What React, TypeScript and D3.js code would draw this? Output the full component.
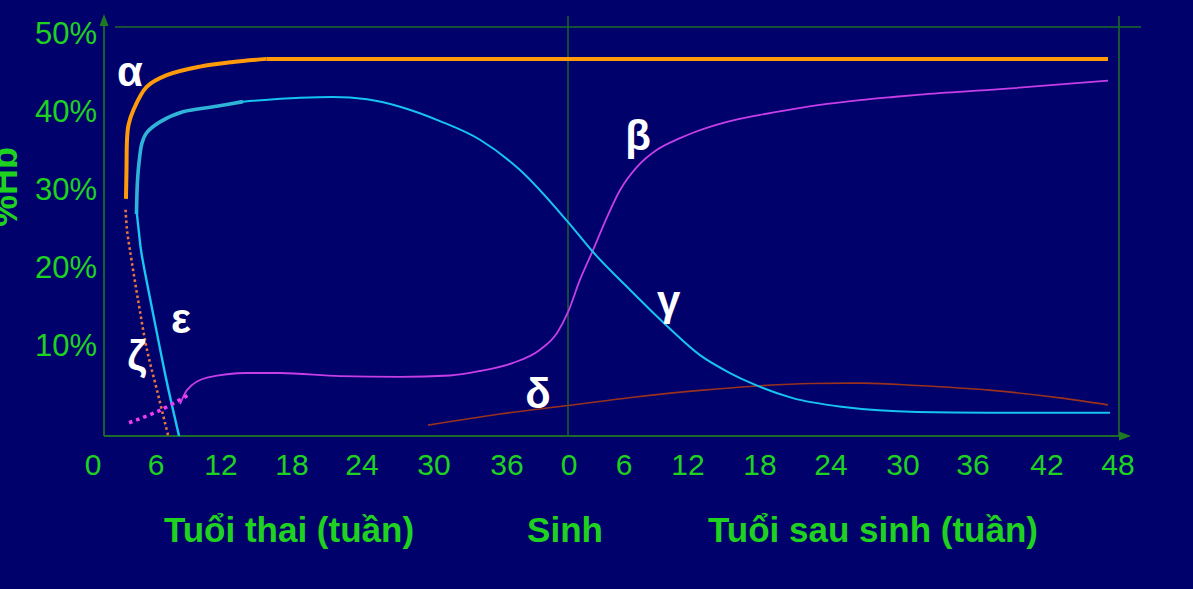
import React from "react";
import * as d3 from "d3";

// ---- axis ticks (t = gestational weeks; t = 40 + postnatal weeks after birth)
const xTickValues = [0, 6, 12, 18, 24, 30, 36, 40, 46, 52, 58, 64, 70, 76, 82, 88];
const xTickLabels = ["0", "6", "12", "18", "24", "30", "36", "0", "6", "12", "18", "24", "30", "36", "42", "48"];
const xTickPixels = [93, 156, 221, 292, 362, 434, 507, 569, 624, 688, 760, 831, 903, 973, 1047, 1118];
const yTickValues = [10, 20, 30, 40, 50];
const yTickLabels = ["10%", "20%", "30%", "40%", "50%"];

// ---- series (t in weeks, v in % Hb)
const alphaRiseT = [3.14, 3.19, 3.24, 3.38, 3.84, 5.11, 6.99, 10.06, 13.01, 15.86];
const alphaRiseV = [28.8, 32.5, 36.4, 38.3, 40.2, 43.2, 44.7, 45.8, 46.4, 46.8];
const alphaPlateauT = [15.86, 87.16];
const alphaPlateauV = [46.8, 46.8];

const zetaT = [3.1, 3.24, 3.52, 4.29, 5.14, 6.09, 7.11];
const zetaV = [27.4, 24.8, 22.2, 15.8, 9.4, 4.2, -1.6];

const epsilonT = [4.14, 4.38, 4.57, 5.14, 6.09, 7.02, 8.13];
const epsilonV = [27.4, 24.4, 22.2, 18.0, 11.5, 5.1, -1.7];

const epsilonEarlyT = [3.43, 6.37, 9.14];
const epsilonEarlyV = [0.0, 1.6, 3.7];

const gammaFetalT = [4.14, 4.24, 4.41, 4.67, 5.11, 6.37, 8.49, 11.6, 13.86];
const gammaFetalV = [26.85, 31.2, 33.8, 36.0, 37.3, 38.7, 40.0, 40.7, 41.3];

const gammaT = [13.86, 18.69, 21.51, 24.42, 27.17, 30.49, 33.78, 36.84, 39.94, 42.62, 46.56, 50.03, 53.0, 55.5, 57.42, 60.7, 65.25, 71.2, 77.3, 83.1, 87.32];
const gammaV = [41.3, 41.8, 41.9, 41.6, 40.65, 38.8, 36.4, 32.5, 25.8, 21.96, 17.1, 12.45, 8.7, 6.4, 5.0, 3.2, 2.0, 1.4, 1.3, 1.3, 1.3];

const betaT = [8.22, 8.86, 10.71, 14.2, 16.99, 22.11, 27.17, 31.32, 33.78, 36.39, 38.13, 39.23, 39.94, 41.2, 42.62, 44.15, 45.56, 47.22, 49.09, 51.25, 52.42, 55.25, 58.0, 60.79, 63.66, 66.42, 69.17, 71.46, 78.19, 87.16];
const betaV = [2.4, 4.2, 5.8, 6.4, 6.4, 6.0, 5.9, 6.08, 6.66, 7.7, 9.4, 11.55, 14.25, 18.4, 22.2, 26.45, 29.9, 32.9, 35.1, 36.6, 37.3, 38.7, 39.6, 40.35, 41.0, 41.5, 41.9, 42.2, 42.9, 44.0];

const deltaT = [29.5, 35.42, 39.94, 46.66, 53.25, 57.42, 62.23, 66.75, 71.2, 77.3, 83.1, 87.16];
const deltaV = [-0.3, 1.13, 2.22, 3.25, 4.2, 4.7, 5.05, 5.1, 4.8, 4.2, 3.2, 2.3];

// ---- labels
const greekLabels = ["α", "β", "γ", "δ", "ε", "ζ"];
const greekT = [3.52, 47.31, 50.2, 38.0, 8.31, 4.19];
const greekV = [43.3, 35.1, 13.9, 1.9, 11.55, 6.79];

const W = 1193;
const H = 589;
const BG = "#01016b";
const AXIS = "#1d6a2a";
const GREEN = "#1fd21f";
const FONT = "'Liberation Sans', Arial, sans-serif";

export default function App() {
  const x = d3.scaleLinear().domain(xTickValues).range(xTickPixels);
  const y = d3.scaleLinear().domain([-1.7, 50.9]).range([436, 27]);

  const pts = (ts: number[], vs: number[]) => ts.map((t, i) => [x(t), y(vs[i])] as [number, number]);
  const smooth = (ts: number[], vs: number[]) =>
    d3.line<[number, number]>().curve(d3.curveCatmullRom.alpha(0.5))(pts(ts, vs)) || "";
  const mono = (ts: number[], vs: number[]) =>
    d3.line<[number, number]>().curve(d3.curveMonotoneX)(pts(ts, vs)) || "";
  const straight = (ts: number[], vs: number[]) => d3.line<[number, number]>()(pts(ts, vs)) || "";

  const x0 = 104; // y-axis position
  const yBottom = y(-1.7);
  const yTop = y(50.9);

  return (
    <svg
      width={W}
      height={H}
      style={{ position: "absolute", left: 0, top: 0, background: BG, display: "block" }}
      fontFamily={FONT}
    >
      <rect x={0} y={0} width={W} height={H} fill={BG} />

      {/* frame lines */}
      <line x1={115} x2={1141} y1={yTop} y2={yTop} stroke={AXIS} strokeWidth={1.6} />
      <line x1={x(40) - 1} x2={x(40) - 1} y1={16} y2={yBottom} stroke={AXIS} strokeWidth={1.4} />
      <line x1={x(88) + 1} x2={x(88) + 1} y1={16} y2={yBottom} stroke={AXIS} strokeWidth={1.6} />
      <line x1={x0} x2={x0} y1={yBottom} y2={24} stroke={AXIS} strokeWidth={1.8} />
      <path d={`M${x0 - 4.5},${26} L${x0},${14} L${x0 + 4.5},${26} Z`} fill="#1e7a22" />
      <line x1={x0} x2={1122} y1={yBottom} y2={yBottom} stroke={AXIS} strokeWidth={1.8} />
      <path d={`M1119,${yBottom - 4.5} L1131,${yBottom} L1119,${yBottom + 4.5} Z`} fill="#1e7a22" />

      {/* series */}
      <path d={mono(deltaT, deltaV)} fill="none" stroke="#98321e" strokeWidth={1.6} />
      <path d={mono(betaT, betaV)} fill="none" stroke="#c53ee6" strokeWidth={1.8} />
      <path d={mono(gammaT, gammaV)} fill="none" stroke="#16c4f2" strokeWidth={2} />
      <path d={smooth(gammaFetalT, gammaFetalV)} fill="none" stroke="#2fb3d6" strokeWidth={3.6} strokeLinecap="butt" />
      <path d={smooth(epsilonT, epsilonV)} fill="none" stroke="#19c6f0" strokeWidth={2.4} />
      <path d={smooth(zetaT, zetaV)} fill="none" stroke="#e4763e" strokeWidth={2.6} strokeDasharray="2.6 2.8" />
      <path d={smooth(epsilonEarlyT, epsilonEarlyV)} fill="none" stroke="#f03cf0" strokeWidth={3.6} strokeDasharray="3.6 4" />
      <path d={smooth(alphaRiseT, alphaRiseV)} fill="none" stroke="#ff9a0a" strokeWidth={4} />
      <path d={straight(alphaPlateauT, alphaPlateauV)} fill="none" stroke="#ff9a0a" strokeWidth={4} />

      {/* y ticks */}
      {yTickValues.map((v, i) => (
        <text key={"yt" + i} x={97} y={y(v)} textAnchor="end" dominantBaseline="central" fontSize={31} fill={GREEN}>
          {yTickLabels[i]}
        </text>
      ))}

      {/* x ticks */}
      {xTickValues.map((t, i) => (
        <text key={"xt" + i} x={x(t)} y={475} textAnchor="middle" fontSize={30} fill={GREEN}>
          {xTickLabels[i]}
        </text>
      ))}

      {/* axis titles */}
      <text x={289} y={542} textAnchor="middle" fontSize={35} fontWeight="bold" fill={GREEN}>
        Tuổi thai (tuần)
      </text>
      <text x={565} y={542} textAnchor="middle" fontSize={35} fontWeight="bold" fill={GREEN}>
        Sinh
      </text>
      <text x={873} y={542} textAnchor="middle" fontSize={35} fontWeight="bold" fill={GREEN}>
        Tuổi sau sinh (tuần)
      </text>
      <text
        transform={`translate(17,187) rotate(-90)`}
        textAnchor="middle"
        fontSize={36}
        fontWeight="bold"
        fill={GREEN}
      >
        %Hb
      </text>

      {/* greek labels */}
      {greekLabels.map((g, i) => (
        <text
          key={"g" + i}
          x={x(greekT[i])}
          y={y(greekV[i])}
          textAnchor="middle"
          fontSize={42}
          fontWeight="bold"
          fill="#ffffff"
        >
          {g}
        </text>
      ))}
    </svg>
  );
}
